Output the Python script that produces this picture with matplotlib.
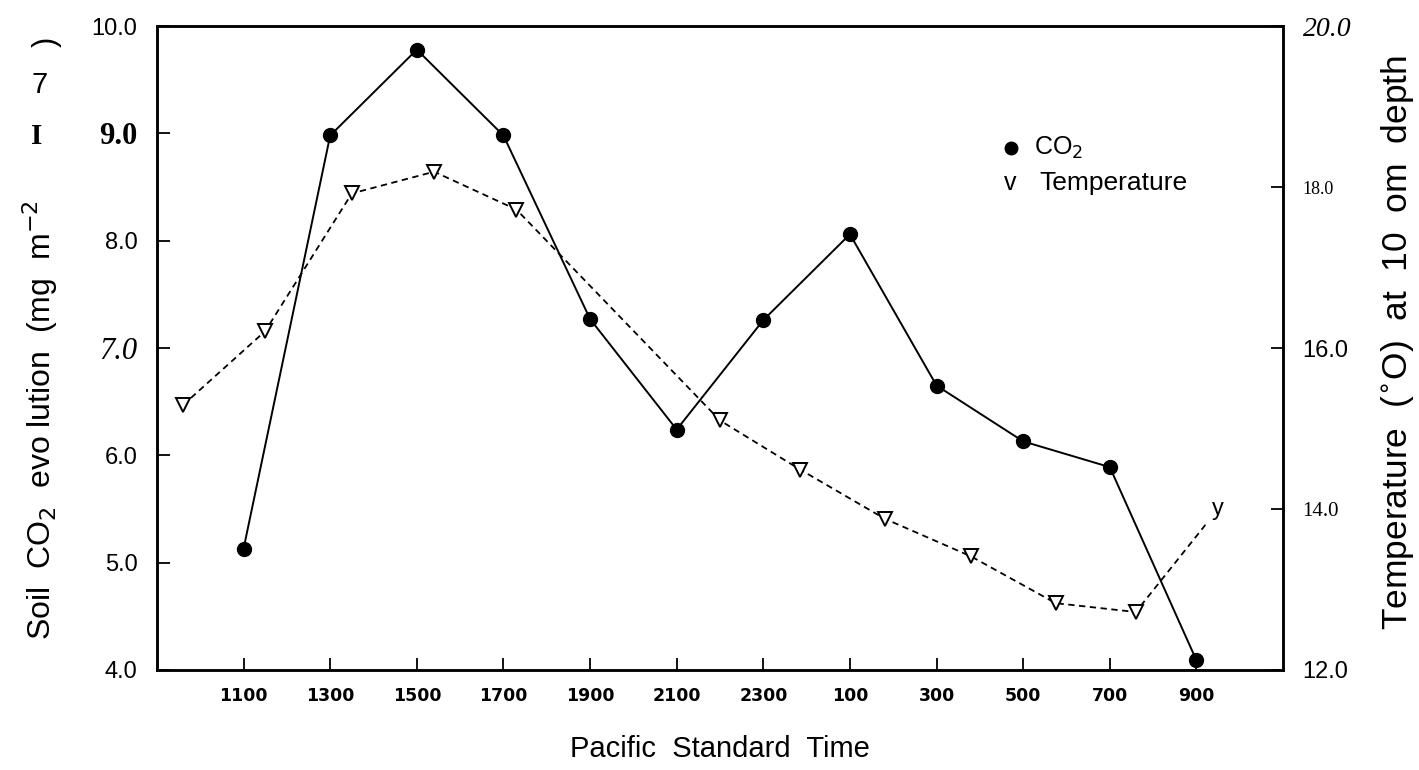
#!/usr/bin/env python3
import matplotlib
matplotlib.use('Agg')
import matplotlib.pyplot as plt

# DATA
# CO2 sampled every two hours (hours since midnight of day 1)
co2_hours = [11, 13, 15, 17, 19, 21, 23, 25, 27, 29, 31, 33]
co2_values = [5.13, 8.98, 9.78, 8.98, 7.27, 6.24, 7.26, 8.06, 6.65, 6.13, 5.89, 4.09]

# Temperature readings (own sampling times)
temp_hours = [9.6, 11.5, 13.5, 15.4, 17.3, 22.0, 23.85, 25.8, 27.8, 29.75, 31.6, 33.5]
temp_values = [15.29, 16.21, 17.92, 18.19, 17.72, 15.10, 14.49, 13.88, 13.41, 12.83, 12.72, 14.0]

x_tick_labels = ['1100', '1300', '1500', '1700', '1900', '2100', '2300',
                 '100', '300', '500', '700', '900']
left_ticks = [4.0, 5.0, 6.0, 7.0, 8.0, 9.0, 10.0]
right_ticks = [12.0, 14.0, 16.0, 18.0, 20.0]

SANS = 'Liberation Sans'
SERIF = 'Liberation Serif'

fig = plt.figure(figsize=(14.19, 7.70), dpi=100)
ax = fig.add_axes([0.1106, 0.1299, 0.7936, 0.8363])
ax2 = ax.twinx()

# CO2 line
ax.plot(co2_hours, co2_values, color='black', linewidth=1.4, marker='o',
        markersize=10, markerfacecolor='black', markeredgecolor='black', zorder=3)

# temperature line; last reading drawn as a letter as in the scan
ax2.plot(temp_hours, temp_values, color='black', linewidth=1.3, linestyle=(0, (3.5, 2.5)),
         marker='v', markersize=10, markerfacecolor='white', markeredgecolor='black',
         markeredgewidth=1.4, markevery=list(range(len(temp_hours) - 1)), zorder=3)
ax2.text(temp_hours[-1], temp_values[-1], 'y', fontsize=17, family=SANS,
         ha='center', va='center', backgroundcolor='white', zorder=4)

ax.set_xlim(9, 35)
ax.set_ylim(4, 10)
ax2.set_ylim(12, 20)

ax.set_xticks(co2_hours)
ax.set_xticklabels(x_tick_labels, fontsize=12.5, fontweight='bold', family='DejaVu Sans')
ax.set_yticks(left_ticks)
ax.set_yticklabels([f'{v:.1f}' for v in left_ticks])
ax2.set_yticks(right_ticks)
ax2.set_yticklabels([f'{v:.1f}' for v in right_ticks])

ax.tick_params(axis='x', direction='in', length=9, width=1.3, pad=12)
ax.tick_params(axis='y', direction='in', length=9, width=1.3, pad=14)
ax2.tick_params(axis='y', direction='in', length=9, width=1.3, pad=14)

# mixed fonts in tick labels, as in the scanned original
left_styles = {
    '4.0': dict(family=SANS, size=17),
    '5.0': dict(family=SANS, size=17),
    '6.0': dict(family=SANS, size=17),
    '7.0': dict(family=SERIF, size=22, style='italic'),
    '8.0': dict(family=SANS, size=17),
    '9.0': dict(family=SERIF, size=22, weight='bold'),
    '10.0': dict(family=SANS, size=17),
}
for lbl in ax.get_yticklabels():
    st = left_styles[lbl.get_text()]
    lbl.set_family(st['family'])
    lbl.set_size(st['size'])
    lbl.set_style(st.get('style', 'normal'))
    lbl.set_weight(st.get('weight', 'normal'))

right_styles = {
    '12.0': dict(family=SANS, size=17),
    '14.0': dict(family=SERIF, size=15),
    '16.0': dict(family=SANS, size=17),
    '18.0': dict(family=SERIF, size=13),
    '20.0': dict(family=SERIF, size=20, style='italic'),
}
for lbl in ax2.get_yticklabels():
    st = right_styles[lbl.get_text()]
    lbl.set_family(st['family'])
    lbl.set_size(st['size'])
    lbl.set_style(st.get('style', 'normal'))

for sp in ax.spines.values():
    sp.set_linewidth(1.8)
for sp in ax2.spines.values():
    sp.set_linewidth(1.8)

# axis titles
ax.set_xlabel('Pacific  Standard  Time', fontsize=21, family=SANS, labelpad=22)
fig.text(0.028, 0.455, 'Soil  CO$_2$  evo lution  (mg  m$^{-2}$', rotation=90,
         fontsize=23, family=SANS, ha='center', va='center')
fig.text(0.026, 0.823, 'I', fontsize=21, family=SERIF, weight='bold', ha='center', va='center')
fig.text(0.028, 0.89, '7', fontsize=21, family=SANS, ha='center', va='center')
fig.text(0.033, 0.945, ')', fontsize=22, family=SANS, rotation=90, ha='center', va='center')
fig.text(0.985, 0.555, 'Temperature  ($^{\\circ}$O)  at  10  om  depth', rotation=90,
         fontsize=25.5, family=SANS, ha='center', va='center')

# legend drawn as text, as in the original
ax.plot([0.758], [0.81], transform=ax.transAxes, marker='o', markersize=9,
        color='black', linestyle='none')
ax.text(0.779, 0.81, 'CO$_2$', transform=ax.transAxes, fontsize=18, family=SANS,
        va='center', ha='left')
ax.text(0.758, 0.756, 'v', transform=ax.transAxes, fontsize=18, family=SANS,
        va='center', ha='center')
ax.text(0.784, 0.756, 'Temperature', transform=ax.transAxes, fontsize=19, family=SANS,
        va='center', ha='left')

fig.savefig('out.png', dpi=100)
